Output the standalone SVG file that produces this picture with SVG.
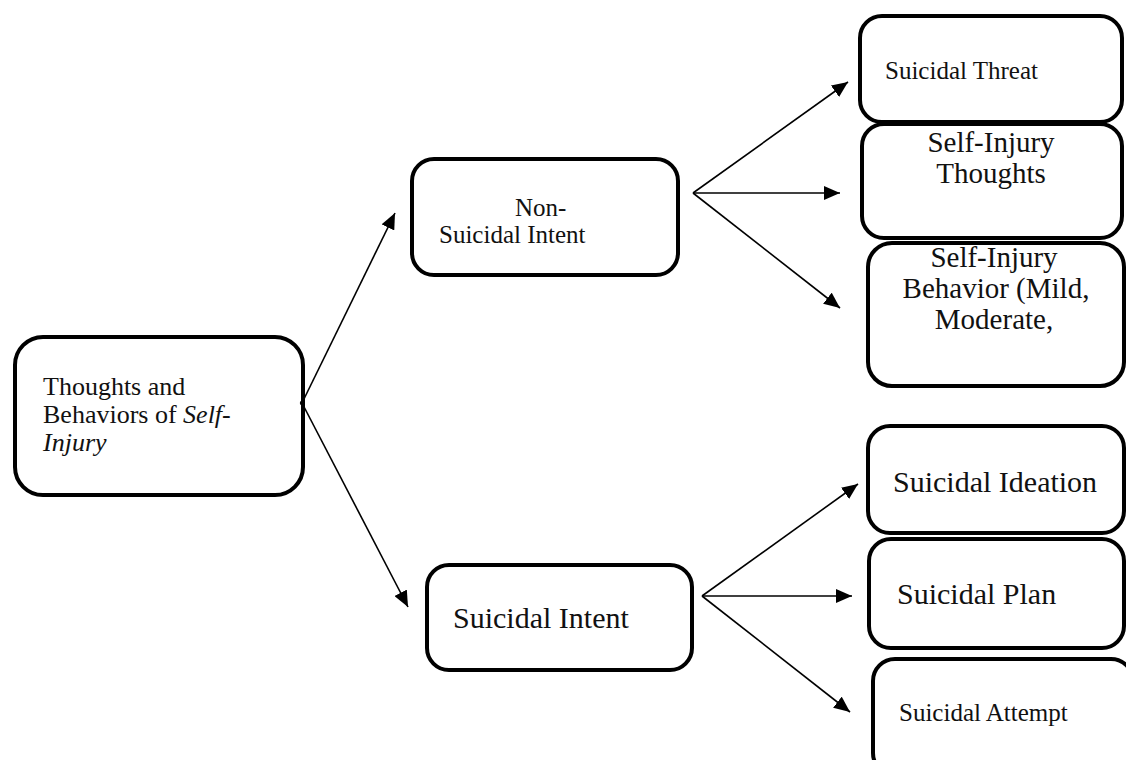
<svg xmlns="http://www.w3.org/2000/svg" width="1126" height="760" viewBox="0 0 1126 760">
<style>
text, tspan{font-family:"Liberation Serif","Times New Roman",serif;fill:#111}
.box{fill:#fff;stroke:#000;stroke-width:4}
.conn{stroke:#000;stroke-width:1.6;fill:none}
</style>
<defs>
<marker id="ah" markerUnits="userSpaceOnUse" markerWidth="18" markerHeight="14" refX="16" refY="7" orient="auto">
<path d="M0,0 L16,7 L0,14 Z" fill="#000"/>
</marker>
</defs>
<rect width="1126" height="760" fill="#fff"/>
<g id="connectors">
<line class="conn" x1="302" y1="403" x2="395" y2="213" marker-end="url(#ah)"/>
<line class="conn" x1="302" y1="403" x2="408" y2="607" marker-end="url(#ah)"/>
<line class="conn" x1="693" y1="193" x2="848" y2="82" marker-end="url(#ah)"/>
<line class="conn" x1="693" y1="193" x2="840" y2="193" marker-end="url(#ah)"/>
<line class="conn" x1="693" y1="193" x2="840" y2="308" marker-end="url(#ah)"/>
<line class="conn" x1="702" y1="596" x2="858" y2="484" marker-end="url(#ah)"/>
<line class="conn" x1="702" y1="596" x2="852" y2="596" marker-end="url(#ah)"/>
<line class="conn" x1="702" y1="596" x2="850" y2="712" marker-end="url(#ah)"/>
</g>
<g id="root">
<rect class="box" x="15" y="337" width="288" height="158" rx="28"/>
<text font-family="Liberation Serif, serif" font-size="26" x="43" y="395">Thoughts and</text>
<text font-family="Liberation Serif, serif" font-size="26" x="43" y="423">Behaviors of <tspan font-style="italic">Self-</tspan></text>
<text font-family="Liberation Serif, serif" font-size="26" x="43" y="451" font-style="italic">Injury</text>
<circle cx="302" cy="403" r="2.2" fill="#000"/>
</g>
<g id="nonsuicidal">
<rect class="box" x="412" y="159" width="266" height="116" rx="22"/>
<text font-family="Liberation Serif, serif" font-size="25" x="515" y="216">Non-</text>
<text font-family="Liberation Serif, serif" font-size="25" x="439" y="243">Suicidal Intent</text>
</g>
<g id="suicidal">
<rect class="box" x="427" y="565" width="265" height="105" rx="22"/>
<text font-family="Liberation Serif, serif" font-size="30" x="453" y="628">Suicidal Intent</text>
</g>
<g id="threat">
<rect class="box" x="860" y="16" width="262" height="106" rx="22"/>
<text font-family="Liberation Serif, serif" font-size="25" x="885" y="79">Suicidal Threat</text>
</g>
<g id="sithoughts">
<rect class="box" x="862" y="124" width="260" height="114" rx="22"/>
<text font-family="Liberation Serif, serif" font-size="29" text-anchor="middle" x="991" y="152">Self-Injury</text>
<text font-family="Liberation Serif, serif" font-size="29" text-anchor="middle" x="991" y="183">Thoughts</text>
</g>
<g id="sibehavior">
<rect class="box" x="868" y="243" width="256" height="143" rx="24"/>
<text font-family="Liberation Serif, serif" font-size="29" text-anchor="middle" x="994" y="267">Self-Injury</text>
<text font-family="Liberation Serif, serif" font-size="29" text-anchor="middle" x="996" y="298">Behavior (Mild,</text>
<text font-family="Liberation Serif, serif" font-size="29" text-anchor="middle" x="994" y="329">Moderate,</text>
</g>
<g id="ideation">
<rect class="box" x="868" y="426" width="256" height="107" rx="22"/>
<text font-family="Liberation Serif, serif" font-size="30" x="893" y="492">Suicidal Ideation</text>
</g>
<g id="plan">
<rect class="box" x="869" y="539" width="255" height="109" rx="22"/>
<text font-family="Liberation Serif, serif" font-size="30" x="897" y="604">Suicidal Plan</text>
</g>
<g id="attempt">
<rect class="box" x="873" y="659" width="260" height="116" rx="22"/>
<text font-family="Liberation Serif, serif" font-size="25" x="899" y="721">Suicidal Attempt</text>
</g>
</svg>
